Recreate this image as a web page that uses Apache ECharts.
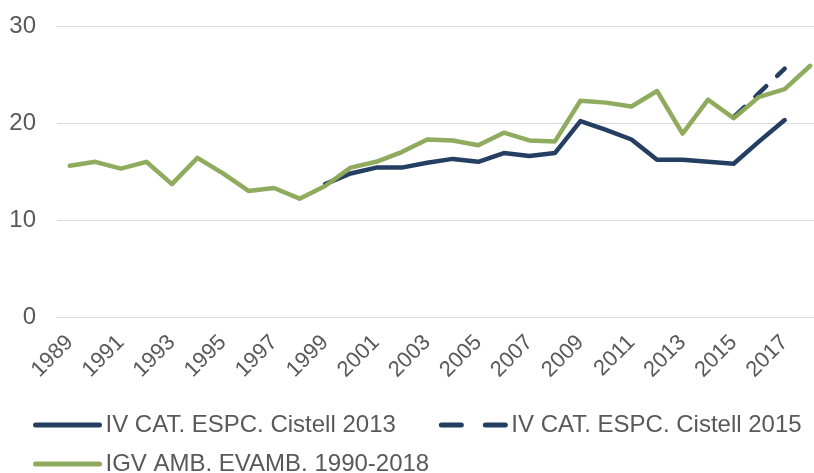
<!DOCTYPE html>
<html>
<head>
<meta charset="utf-8">
<script src="https://cdn.jsdelivr.net/npm/echarts@6/dist/echarts.min.js"></script>
<style>
  html, body { margin: 0; padding: 0; background: #fff; }
  #chart { width: 814px; height: 473px; }
</style>
</head>
<body>
<div id="chart"></div>
<script>
// categories
var years = [];
for (var y = 1989; y <= 2018; y++) years.push(String(y));

// IGV AMB. EVAMB. 1990-2018
var igvAmb = [15.6, 16.0, 15.3, 16.0, 13.7, 16.4, 14.8, 13.0, 13.3, 12.2,
              13.5, 15.4, 16.0, 17.0, 18.3, 18.2, 17.7, 19.0, 18.2, 18.1,
              22.3, 22.1, 21.7, 23.3, 18.9, 22.4, 20.5, 22.7, 23.5, 25.9];
// IV CAT. ESPC. Cistell 2013
var cistell2013 = [null, null, null, null, null, null, null, null, null, null,
                   13.7, 14.8, 15.4, 15.4, 15.9, 16.3, 16.0, 16.9, 16.6, 16.9,
                   20.2, 19.3, 18.3, 16.2, 16.2, 16.0, 15.8, 18.1, 20.3, null];
// IV CAT. ESPC. Cistell 2015
var cistell2015 = [null, null, null, null, null, null, null, null, null, null,
                   null, null, null, null, null, null, null, null, null, null,
                   null, null, null, null, null, null, 20.6, 23.1, 25.6, null];

var blue = '#243F62';
var green = '#8BA858';
var txt = '#595959';
var font = '"Liberation Sans", Arial, sans-serif';

var legendText = { fontSize: 24, color: txt, fontFamily: font, padding: [0, 0, 0, 1] };

var myChart = echarts.init(document.getElementById('chart'));
var option = {
  animation: false,
  textStyle: { fontFamily: font },
  grid: { left: 57, top: 26, width: 766, height: 291, outerBoundsMode: 'none', containLabel: false },
  legend: [
    {
      left: 28, top: 408, width: 800, itemGap: 43, itemWidth: 64, itemHeight: 14,
      textStyle: legendText,
      itemStyle: { opacity: 0 },
      lineStyle: { width: 5, cap: 'round' },
      data: [
        { name: 'IV CAT. ESPC. Cistell 2013' },
        { name: 'IV CAT. ESPC. Cistell 2015', lineStyle: { width: 5, cap: 'round', type: [20, 24] } }
      ]
    },
    {
      left: 28, top: 447, itemWidth: 64, itemHeight: 14,
      textStyle: legendText,
      itemStyle: { opacity: 0 },
      lineStyle: { width: 5, cap: 'round' },
      data: ['IGV AMB. EVAMB. 1990-2018']
    }
  ],
  xAxis: {
    type: 'category',
    boundaryGap: true,
    data: years,
    axisLine: { show: true, lineStyle: { color: '#d9d9d9', width: 1 } },
    axisTick: { show: false },
    axisLabel: { interval: 1, rotate: 45, fontSize: 22, color: txt, margin: 22, fontFamily: font }
  },
  yAxis: {
    type: 'value',
    min: 0, max: 30, interval: 10,
    axisLine: { show: false },
    axisTick: { show: false },
    axisLabel: { fontSize: 24, color: txt, margin: 21, fontFamily: font },
    splitLine: { lineStyle: { color: '#d9d9d9', width: 1 } }
  },
  series: [
    {
      name: 'IV CAT. ESPC. Cistell 2013', type: 'line', data: cistell2013,
      symbol: 'none', color: blue,
      lineStyle: { color: blue, width: 4.5, cap: 'round', join: 'round' }
    },
    {
      name: 'IV CAT. ESPC. Cistell 2015', type: 'line', data: cistell2015,
      symbol: 'none', color: blue,
      lineStyle: { color: blue, width: 4.5, type: [15, 15], cap: 'round', join: 'round' }
    },
    {
      name: 'IGV AMB. EVAMB. 1990-2018', type: 'line', data: igvAmb,
      symbol: 'none', color: green,
      lineStyle: { color: green, width: 4.5, cap: 'round', join: 'round', opacity: 0.97 }
    }
  ]
};
myChart.setOption(option);
window.onresize = function () { myChart.resize(); };
</script>
</body>
</html>
